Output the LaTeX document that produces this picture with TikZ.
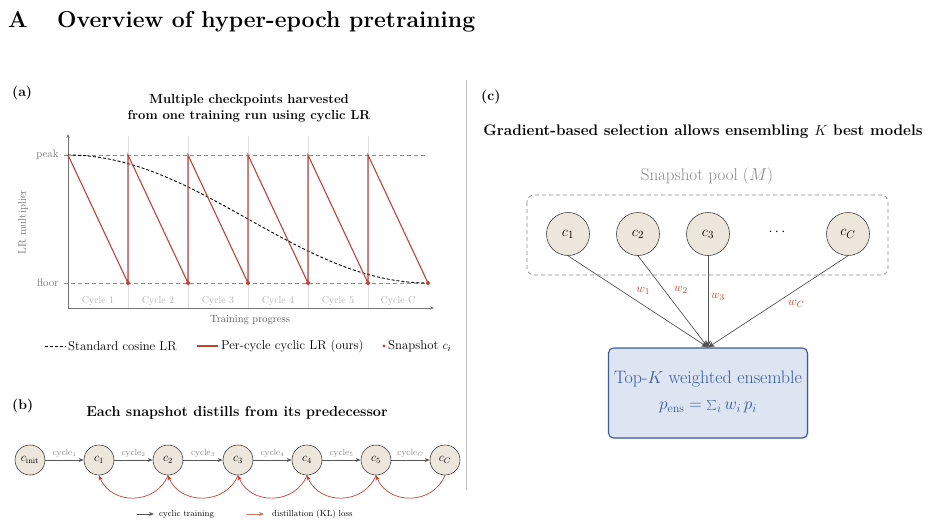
\documentclass[tikz,border=0pt]{standalone}
\usetikzlibrary{arrows.meta,shadows}
\definecolor{myred}{HTML}{C64035}
\definecolor{nodefill}{HTML}{EDE6DC}
\definecolor{nodeedge}{HTML}{3F3F3F}
\definecolor{boxfill}{HTML}{DCE5F1}
\definecolor{boxedge}{HTML}{3A5A9C}
\definecolor{txtgray}{HTML}{8A8A8A}
\definecolor{linegray}{HTML}{555555}
\tikzset{
  panel/.style={font=\bfseries\fontsize{14}{16}\selectfont, anchor=west, inner sep=0pt},
  ptitle/.style={font=\bfseries\fontsize{13}{16}\selectfont, align=center},
  axlabel/.style={text=black!55, font=\fontsize{11}{13}\selectfont},
  cyclab/.style={text=black!30, font=\fontsize{10}{12}\selectfont},
  legtext/.style={anchor=west, font=\fontsize{12.8}{14}\selectfont, inner sep=1pt},
  snapb/.style={circle, draw=nodeedge, fill=nodefill, line width=0.6pt, minimum size=30pt, inner sep=0pt, font=\fontsize{11.5}{13}\selectfont},
  snapc/.style={circle, draw=nodeedge, fill=nodefill, line width=0.6pt, minimum size=43pt, inner sep=0pt, font=\fontsize{15}{17}\selectfont},
  trainarr/.style={draw=linegray, line width=0.7pt, -{Stealth[length=5pt,width=4pt]}},
  distarr/.style={draw=myred, line width=0.7pt, -{Stealth[length=5pt,width=4pt]}},
  edgelab/.style={text=txtgray, font=\fontsize{9}{10}\selectfont, above, inner sep=2pt},
  selarr/.style={draw=linegray, line width=0.7pt, -{Stealth[length=7pt,width=6pt]}},
  wlab/.style={text=myred, font=\fontsize{13}{15}\selectfont},
  ensbox/.style={draw=boxedge, fill=boxfill, line width=1.1pt, rounded corners=5pt, minimum width=199pt, minimum height=90pt, drop shadow={opacity=0.18, shadow xshift=1pt, shadow yshift=-1.2pt}},
  enstext/.style={text=boxedge},
}
\begin{document}
\begin{tikzpicture}[x=1pt,y=-1pt]
\useasboundingbox (0,0) rectangle (930,525);

% ---------- main title
\node[anchor=base west, font=\bfseries\fontsize{23}{27}\selectfont, inner sep=0pt] (tA) at (8,27) {A};
\node[anchor=base west, font=\bfseries\fontsize{23}{27}\selectfont, inner sep=0pt] (tmain) at (57,27) {Overview of hyper-epoch pretraining};

% separator
\draw[black!25, line width=0.7pt] (466,80) -- (466,490);

% ---------- panel (a)
\node[panel] (pa) at (12,93) {(a)};
\node[ptitle] (atitle) at (249,108) {Multiple checkpoints harvested\\from one training run using cyclic LR};

% cycle separators
\foreach \i in {1,...,5}{
  \draw[black!12, line width=1pt] ({68+60*\i},136) -- ({68+60*\i},308);
}
% peak / floor reference lines
\draw[black!45, dashed, dash pattern=on 4pt off 3pt, line width=0.6pt] (64,155) -- (428,155);
\draw[black!45, dashed, dash pattern=on 4pt off 3pt, line width=0.6pt] (64,283) -- (428,283);
% axes
\draw[black!55, line width=0.8pt, -{Stealth[length=4pt,width=3pt]}] (68,308) -- (68,134);
\draw[black!55, line width=0.8pt, -{Stealth[length=4pt,width=3pt]}] (68,308) -- (434,308);
\node[axlabel, anchor=east] (lpeak) at (62,155) {peak};
\node[axlabel, anchor=east] (lfloor) at (62,283) {floor};
\node[axlabel, rotate=90] (lylab) at (23,222) {LR multiplier};
\node[axlabel, text=black!65, font=\fontsize{10.5}{12}\selectfont] (lxlab) at (250,320) {Training progress};
\foreach \i/\t in {1/1,2/2,3/3,4/4,5/5,6/C}{
  \node[cyclab] (cyc\i) at ({38+60*\i},301) {Cycle \t};
}
% cosine schedule
\draw[black, line width=0.9pt, dash pattern=on 3pt off 2pt] plot[domain=0:1, samples=80, smooth] ({68+360*\x},{283-64*(1+cos(180*\x))});
% sawtooth
\draw[myred, line width=1.1pt, line join=miter]
  (68,155) -- (128,283) -- (128,155) -- (188,283) -- (188,155) -- (248,283) -- (248,155)
  -- (308,283) -- (308,155) -- (368,283) -- (368,155) -- (428,283);
\foreach \i in {1,...,6}{
  \fill[myred] ({68+60*\i},283) circle (2pt);
}
% legend (a)
\draw[black, line width=0.9pt, dash pattern=on 3pt off 2pt] (45,346) -- (66,346);
\node[legtext] (lg1) at (67,346) {Standard cosine LR};
\draw[myred, line width=1.1pt] (197,346) -- (218,346);
\node[legtext] (lg2) at (220,346) {Per-cycle cyclic LR (ours)};
\fill[myred] (384,346) circle (1.7pt);
\node[legtext] (lg3) at (387,346) {Snapshot $c_i$};

% ---------- panel (b)
\node[panel] (pb) at (12,406) {(b)};
\node[ptitle, font=\bfseries\fontsize{14.4}{17}\selectfont] (btitle) at (237,413) {Each snapshot distills from its predecessor};

\node[snapb] (b0) at (30,460) {$c_{\mathrm{init}}$};
\node[snapb] (b1) at (99,460) {$c_1$};
\node[snapb] (b2) at (168,460) {$c_2$};
\node[snapb] (b3) at (238,460) {$c_3$};
\node[snapb] (b4) at (307,460) {$c_4$};
\node[snapb] (b5) at (376,460) {$c_5$};
\node[snapb] (bC) at (445,460) {$c_C$};

\draw[trainarr] (b0) -- node[edgelab] {cycle$_1$} (b1);
\draw[trainarr] (b1) -- node[edgelab] {cycle$_2$} (b2);
\draw[trainarr] (b2) -- node[edgelab] {cycle$_3$} (b3);
\draw[trainarr] (b3) -- node[edgelab] {cycle$_4$} (b4);
\draw[trainarr] (b4) -- node[edgelab] {cycle$_5$} (b5);
\draw[trainarr] (b5) -- node[edgelab] {cycle$_C$} (bC);

\foreach \a/\b in {b2/b1,b3/b2,b4/b3,b5/b4,bC/b5}{
  \draw[distarr] (\a.south) .. controls +(-12,30) and +(12,30) .. (\b.south);
}
% legend (b)
\coordinate (lt1) at (137,514);
\coordinate (lt2) at (154,514);
\draw[trainarr] (lt1) -- (lt2);
\node[legtext, font=\fontsize{8.6}{10}\selectfont] (lgb1) at (158,514) {cyclic training};
\coordinate (ld1) at (247,514);
\coordinate (ld2) at (264,514);
\draw[distarr, draw=myred!75] (ld1) -- (ld2);
\node[legtext, font=\fontsize{8.6}{10}\selectfont] (lgb2) at (271,514) {distillation (KL) loss};

% ---------- panel (c)
\node[panel] (pc) at (481,97) {(c)};
\node[ptitle, font=\bfseries\fontsize{15.3}{18}\selectfont] (ctitle) at (703,132) {Gradient-based selection allows ensembling $K$ best models};
\node[text=txtgray, font=\fontsize{17}{20}\selectfont] (pooltitle) at (707,176) {Snapshot pool ($M$)};
\draw[black!45, dashed, dash pattern=on 4pt off 3pt, line width=0.7pt, rounded corners=7pt] (527,195) rectangle (888,275);

\node[snapc] (p1) at (568,234) {$c_1$};
\node[snapc] (p2) at (638,234) {$c_2$};
\node[snapc] (p3) at (708,234) {$c_3$};
\node[font=\fontsize{14}{16}\selectfont] (pdots) at (777,232) {$\cdots$};
\node[snapc] (pC) at (848,234) {$c_C$};

\node[ensbox] (ens) at (708,393) {};
\node[enstext, font=\fontsize{18}{21}\selectfont] (ens1) at (708,379) {Top-$K$ weighted ensemble};
\node[enstext, font=\fontsize{17.5}{20}\selectfont] (ens2) at (708,407) {$p_{\mathrm{ens}} = \sum_i w_i\, p_i$};

\draw[selarr] (p1.south) -- node[wlab, pos=0.38, xshift=22pt] {$w_1$} (ens.north);
\draw[selarr] (p2.south) -- node[wlab, pos=0.37, xshift=17pt] {$w_2$} (ens.north);
\draw[selarr] (p3.south) -- node[wlab, pos=0.45, xshift=10pt] {$w_3$} (ens.north);
\draw[selarr] (pC.south) -- node[wlab, pos=0.52, xshift=21pt] {$w_C$} (ens.north);

\end{tikzpicture}
\end{document}
